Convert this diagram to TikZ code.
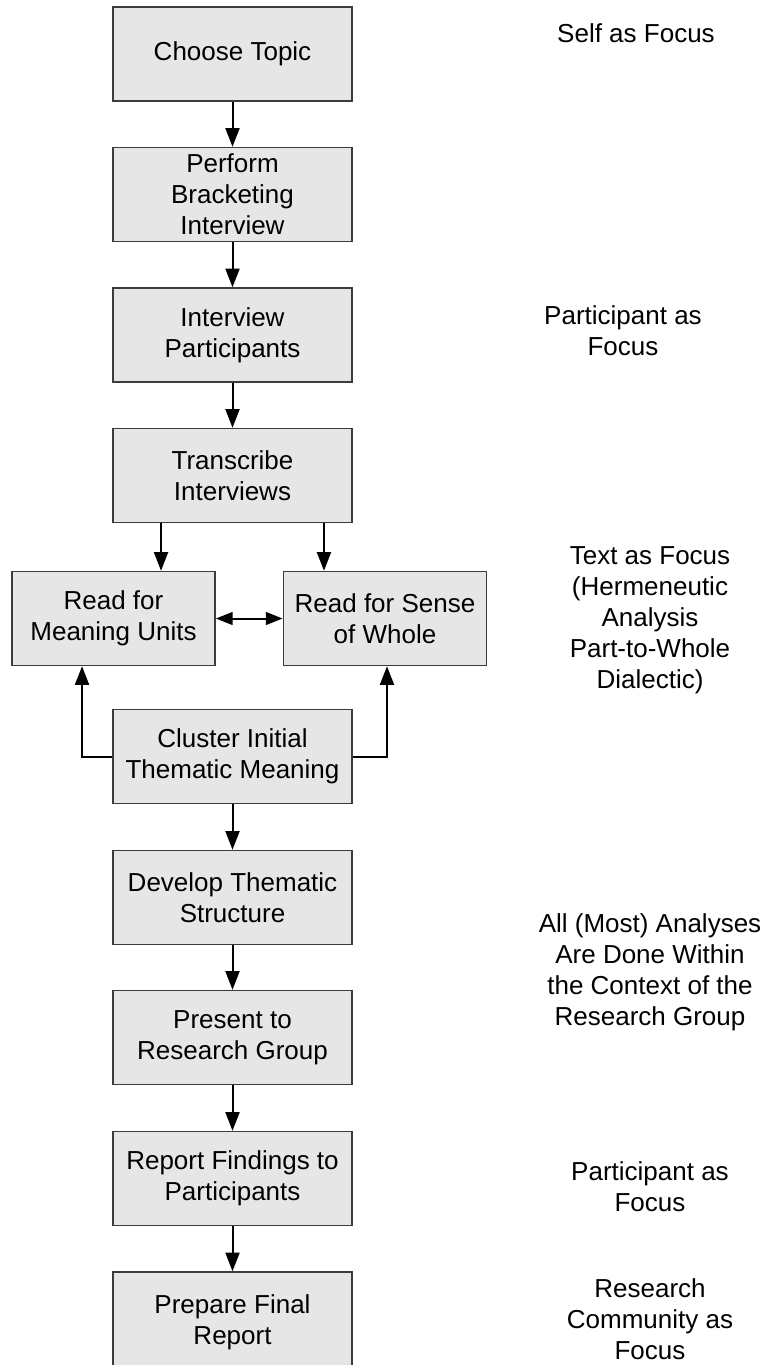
\documentclass[tikz,border=0pt]{standalone}
\usepackage{fontspec}
\setmainfont{Liberation Sans}
\usetikzlibrary{arrows.meta}
\definecolor{boxgray}{RGB}{230,230,230}
\definecolor{boxline}{RGB}{60,60,60}
\tikzset{
stepbox/.style={
	  draw=boxline, line width=1.1pt, fill=boxgray, align=center,
	    minimum width=179.25pt, minimum height=70.5pt, inner sep=2pt},
readbox/.style={stepbox, minimum width=152.5pt},
focus/.style={align=center, inner sep=0pt},
flow/.style={line width=1.5pt, -{Triangle[length=14pt,width=10.5pt]}},
twoway/.style={line width=1.5pt, {Triangle[length=12.5pt,width=9.5pt]}-{Triangle[length=12.5pt,width=9.5pt]}}
}

\begin{document}
\begin{tikzpicture}[x=0.75pt, y=-0.75pt, font=\fontsize{19.5pt}{23.25pt}\selectfont]
	\useasboundingbox (0,0) rectangle (767,1365);
	\node[stepbox] (topic) at (232.5,54) {Choose Topic};
	\node[stepbox] (bracket) at (232.5,194.5) {Perform\\Bracketing\\Interview};
	\node[stepbox] (interview) at (232.5,335) {Interview\\Participants};
	\node[stepbox] (transcribe) at (232.5,475.5) {Transcribe\\Interviews};
	\node[readbox] (units) at (113.5,618.5) {Read for\\Meaning Units};
	\node[readbox] (whole) at (385,618.5) {Read for Sense\\of Whole};
	\node[stepbox] (cluster) at (232.5,756.5) {Cluster Initial\\Thematic Meaning};
	\node[stepbox] (develop) at (232.5,897.5) {Develop Thematic\\Structure};
	\node[stepbox] (present) at (232.5,1037.5) {Present to\\Research Group};
	\node[stepbox] (report) at (232.5,1178.5) {Report Findings to\\Participants};
	\node[stepbox, minimum height=75pt] (final) at (232.5,1322) {Prepare Final\\Report};

	\node[focus] (self) at (636,33.5) {Self as Focus};
	\node[focus] (partA) at (623,331) {Participant as\\Focus};
	\node[focus] (text) at (650,620) {Text as Focus\\(Hermeneutic\\Analysis\\Part-to-Whole\\Dialectic)};
	\node[focus] (group) at (650,972) {All (Most) Analyses\\Are Done Within\\the Context of the\\Research Group};
	\node[focus] (partB) at (650,1187) {Participant as\\Focus};
	\node[focus] (community) at (650,1319) {Research\\Community as\\Focus};

	\draw[flow] (topic) -- (bracket);
	\draw[flow] (bracket) -- (interview);
	\draw[flow] (interview) -- (transcribe);
	\draw[flow] ([xshift=-53.6pt]transcribe.south) -- ([xshift=-53.6pt]transcribe.south |- units.north);
	\draw[flow] ([xshift=68.6pt]transcribe.south) -- ([xshift=68.6pt]transcribe.south |- whole.north);
	\draw[twoway] (units) -- (whole);
	\draw[flow] (cluster.west) -| ([xshift=-23.6pt]units.south);
	\draw[flow] (cluster.east) -| ([xshift=1.5pt]whole.south);
	\draw[flow] (cluster) -- (develop);
	\draw[flow] (develop) -- (present);
	\draw[flow] (present) -- (report);
	\draw[flow] (report) -- (final);
\end{tikzpicture}
\end{document}
